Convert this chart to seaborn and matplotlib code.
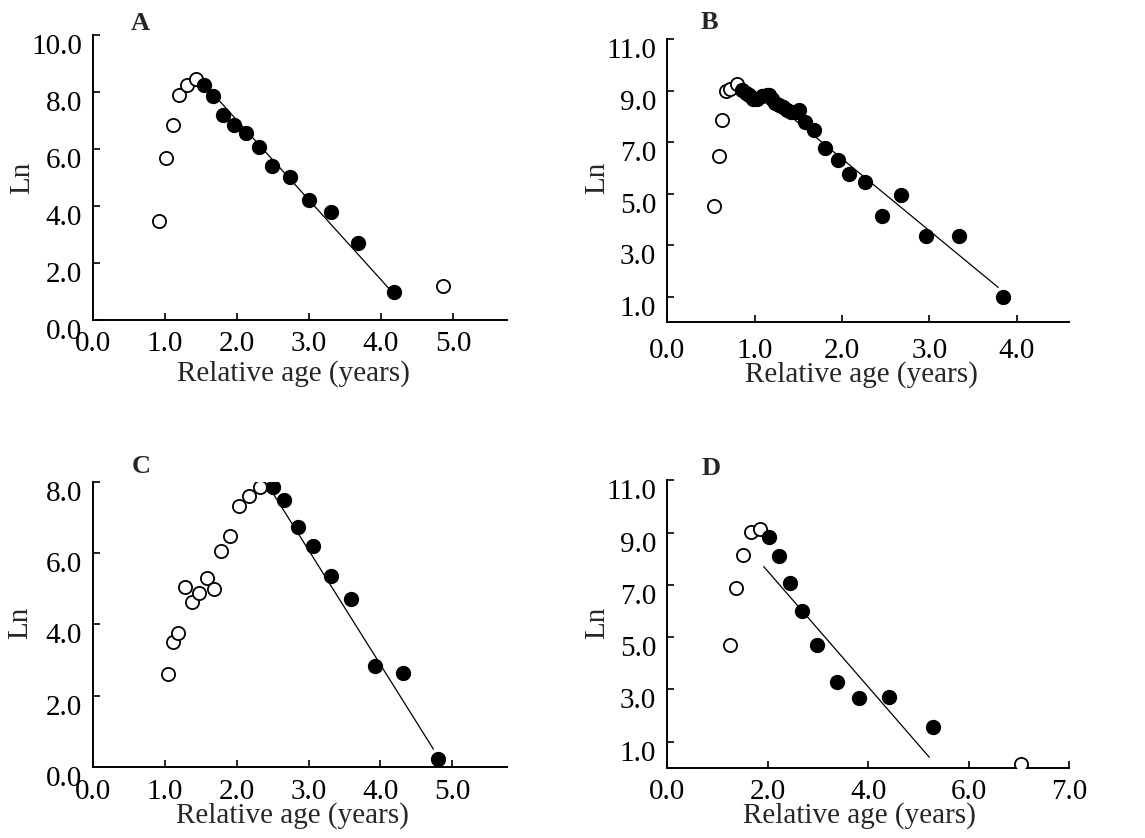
import pandas as pd
import matplotlib.pyplot as plt
import matplotlib.transforms as mtransforms
import seaborn as sns

# --- data (relative age in years, Ln)
a_open_x = [0.92, 1.02, 1.11, 1.20, 1.30, 1.43, 4.86]
a_open_y = [3.48, 5.68, 6.85, 7.89, 8.25, 8.46, 1.19]
a_fill_x = [1.54, 1.66, 1.81, 1.96, 2.12, 2.30, 2.49, 2.74, 3.00, 3.31, 3.68, 4.18]
a_fill_y = [8.25, 7.86, 7.20, 6.84, 6.57, 6.08, 5.42, 5.02, 4.21, 3.78, 2.69, 0.97]
a_line_x = [1.52, 4.13]
a_line_y = [8.35, 1.05]

b_open_x = [0.53, 0.59, 0.63, 0.67, 0.72, 0.80]
b_open_y = [4.50, 6.45, 7.86, 8.98, 9.05, 9.27]
b_fill_x = [0.86, 0.90, 0.94, 0.98, 1.03, 1.09, 1.14, 1.17, 1.20, 1.23, 1.28, 1.33,
            1.37, 1.42, 1.47, 1.51, 1.58, 1.68, 1.81, 1.95, 2.08, 2.26, 2.46, 2.68,
            2.96, 3.34, 3.84]
b_fill_y = [9.01, 8.92, 8.82, 8.66, 8.69, 8.79, 8.84, 8.82, 8.66, 8.53, 8.45, 8.36,
            8.23, 8.17, 8.17, 8.23, 7.77, 7.45, 6.77, 6.30, 5.77, 5.45, 4.12, 4.94,
            3.35, 3.35, 0.98]
b_line_x = [1.17, 3.79]
b_line_y = [8.67, 1.36]

c_open_x = [1.04, 1.11, 1.18, 1.28, 1.37, 1.47, 1.58, 1.68, 1.78, 1.90, 2.03, 2.17, 2.32]
c_open_y = [2.60, 3.52, 3.75, 5.06, 4.63, 4.88, 5.30, 4.99, 6.07, 6.49, 7.34, 7.61, 7.88]
c_fill_x = [2.50, 2.66, 2.85, 3.06, 3.31, 3.59, 3.92, 4.31, 4.80]
c_fill_y = [7.86, 7.50, 6.75, 6.22, 5.37, 4.72, 2.83, 2.63, 0.21]
c_line_x = [2.46, 4.74]
c_line_y = [7.83, 0.49]

d_open_x = [1.24, 1.37, 1.50, 1.66, 1.84, 7.04]
d_open_y = [4.70, 6.88, 8.13, 9.02, 9.14, 0.15]
d_fill_x = [2.02, 2.22, 2.45, 2.69, 2.99, 3.37, 3.82, 4.42, 5.30]
d_fill_y = [8.85, 8.11, 7.07, 6.01, 4.70, 3.30, 2.66, 2.72, 1.57]
d_line_x = [1.92, 5.22]
d_line_y = [7.70, 0.40]

# tick positions / labels per panel
a_xticks, a_xlabels = [0, 1, 2, 3, 4, 5], ["0.0", "1.0", "2.0", "3.0", "4.0", "5.0"]
a_yticks, a_ylabels = [0, 2, 4, 6, 8, 10], ["0.0", "2.0", "4.0", "6.0", "8.0", "10.0"]
b_xticks, b_xlabels = [0, 1, 2, 3, 4], ["0.0", "1.0", "2.0", "3.0", "4.0"]
b_yticks, b_ylabels = [1, 3, 5, 7, 9, 11], ["1.0", "3.0", "5.0", "7.0", "9.0", "11.0"]
c_xticks, c_xlabels = a_xticks, a_xlabels
c_yticks, c_ylabels = [0, 2, 4, 6, 8], ["0.0", "2.0", "4.0", "6.0", "8.0"]
d_xticks, d_xlabels = [0, 2, 4, 6, 8], ["0.0", "2.0", "4.0", "6.0", "7.0"]
d_yticks, d_ylabels = b_yticks, b_ylabels

sns.set_style("ticks")
plt.rcParams["font.family"] = ["Liberation Serif", "DejaVu Serif"]
plt.rcParams["font.size"] = 21

fig = plt.figure(figsize=(11.45, 8.38), dpi=100)

panels = [
    # letter, rect, xlim, ylim, data, ticks, xlabel pos, ylabel pos, letter pos, x tick pad
    ("A", [0.0812, 0.6181, 0.3616, 0.3401], (0, 5.75), (0, 10),
     (a_open_x, a_open_y, a_fill_x, a_fill_y, a_line_x, a_line_y),
     (a_xticks, a_xlabels, a_yticks, a_ylabels),
     (0.483, -0.186), (-0.172, 0.498), (0.1223, 0.9714), 8),
    ("B", [0.5828, 0.6152, 0.3508, 0.3383], (0, 4.6), (0, 11),
     (b_open_x, b_open_y, b_fill_x, b_fill_y, b_line_x, b_line_y),
     (b_xticks, b_xlabels, b_yticks, b_ylabels),
     (0.484, -0.185), (-0.175, 0.51), (0.6192, 0.9726), 11),
    ("C", [0.0815, 0.0851, 0.3610, 0.3394], (0, 5.76), (0, 8),
     (c_open_x, c_open_y, c_fill_x, c_fill_y, c_line_x, c_line_y),
     (c_xticks, c_xlabels, c_yticks, c_ylabels),
     (0.481, -0.172), (-0.176, 0.505), (0.1231, 0.4431), 9),
    ("D", [0.5828, 0.0838, 0.3508, 0.3430], (0, 8), (0, 11),
     (d_open_x, d_open_y, d_fill_x, d_fill_y, d_line_x, d_line_y),
     (d_xticks, d_xlabels, d_yticks, d_ylabels),
     (0.479, -0.166), (-0.175, 0.504), (0.621, 0.4415), 8),
]

shift_down = mtransforms.ScaledTranslation(0, -9 / 100, fig.dpi_scale_trans)

for letter, rect, xlim, ylim, data, ticks, xl_pos, yl_pos, let_pos, xpad in panels:
    ox, oy, fx, fy, lx, ly = data
    ax = fig.add_axes(rect)

    sns.lineplot(x=lx, y=ly, ax=ax, color="black", linewidth=0.9)
    sns.scatterplot(x=ox, y=oy, ax=ax, s=90, color="white",
                    edgecolor="black", linewidth=1.3, zorder=3)
    sns.scatterplot(x=fx, y=fy, ax=ax, s=100, color="black",
                    edgecolor="black", linewidth=1.0, zorder=3)

    ax.set_xlim(*xlim)
    ax.set_ylim(*ylim)
    ax.set_xticks(ticks[0])
    ax.set_xticklabels(ticks[1])
    ax.set_yticks(ticks[2])
    ax.set_yticklabels(ticks[3])
    ax.tick_params(direction="in", length=5, width=1.2, labelsize=21, colors="black")
    ax.tick_params(axis="y", pad=8)
    ax.tick_params(axis="x", pad=xpad)
    for lab in ax.get_yticklabels():
        lab.set_transform(lab.get_transform() + shift_down)

    sns.despine(ax=ax)
    for sp in ["left", "bottom"]:
        ax.spines[sp].set_linewidth(1.4)
        ax.spines[sp].set_color("black")

    ax.set_xlabel("Relative age (years)", fontsize=21)
    ax.set_ylabel("Ln", fontsize=21)
    ax.xaxis.set_label_coords(*xl_pos)
    ax.xaxis.label.set_va("center")
    ax.yaxis.set_label_coords(*yl_pos)
    ax.yaxis.label.set_va("center")

    fig.text(let_pos[0], let_pos[1], letter, fontsize=19, fontweight="bold",
             ha="center", va="center")

fig.savefig("out.png", dpi=100)
